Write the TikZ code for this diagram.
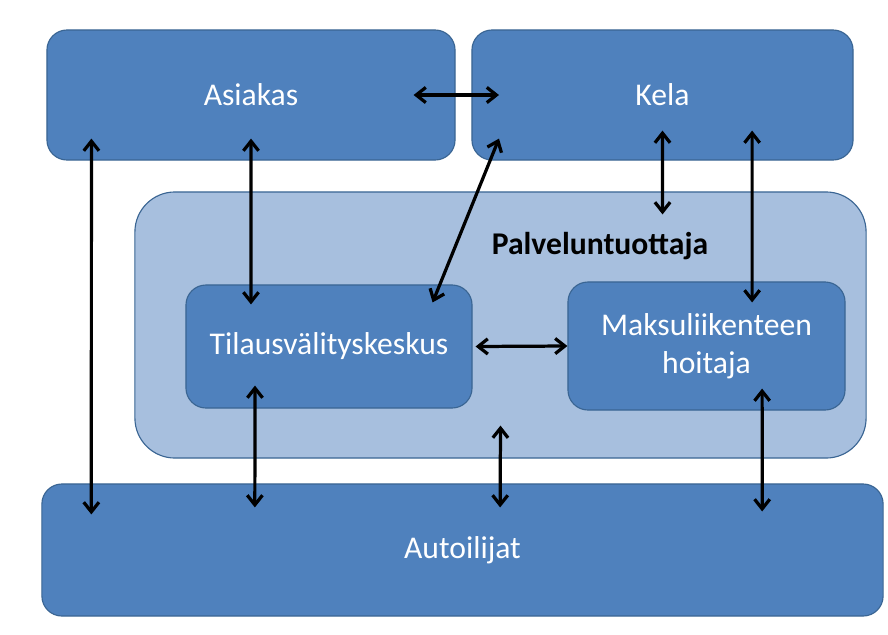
\documentclass[tikz,border=0pt]{standalone}
\usepackage{fontspec}
\setmainfont{Carlito}
\usetikzlibrary{arrows.meta}
\definecolor{boxblue}{HTML}{4F81BD}
\definecolor{boxline}{HTML}{3A6593}
\definecolor{lightblue}{HTML}{A7BFDE}
\begin{document}
\begin{tikzpicture}[x=0.025cm,y=-0.025cm,
  box/.style={draw=boxline, line width=0.8pt, fill=boxblue, rounded corners=0.5cm, text=white, font=\fontsize{22.5}{27}\selectfont, align=center, inner sep=0pt},
  outer/.style={draw=boxline, line width=0.8pt, fill=lightblue, rounded corners=1cm, inner sep=0pt},
  arr/.style={line width=2.3pt, {Straight Barb[length=2.4mm,width=3.8mm]}-{Straight Barb[length=2.4mm,width=3.8mm]}}]
\useasboundingbox (0,0) rectangle (888,634);
\node[box, minimum width=10.2cm, minimum height=3.25cm] (1) at (251,95) {Asiakas};
\node[box, minimum width=9.525cm, minimum height=3.25cm] (2) at (662.5,95) {Kela};
\node[outer, minimum width=18.275cm, minimum height=6.65cm] (3) at (500.5,325) {};
\node[font=\fontsize{22.5}{27}\selectfont\bfseries] (3t) at (600,246) {Palveluntuottaja};
\node[box, minimum width=7.15cm, minimum height=3.075cm] (4) at (329,346.5) {Tilausvälityskeskus};
\node[box, minimum width=6.925cm, minimum height=3.2cm] (5) at (706.5,346) {Maksuliikenteen\\hoitaja};
\node[box, minimum width=21.025cm, minimum height=3.3cm] (6) at (462.5,550) {Autoilijat};
\path[draw,arr] ([xshift=-1.05cm]1.east) -- ([xshift=0.69cm]2.west);
\path[draw,arr] ([xshift=1.125cm,yshift=0.55cm]1.south west) -- ([xshift=1.25cm,yshift=-0.775cm]6.north west);
\path[draw,arr] ([yshift=0.55cm]1.south) -- ([xshift=-1.95cm,yshift=-0.5cm]4.north);
\path[draw,arr] ([xshift=0.69cm,yshift=0.55cm]2.south west) -- ([xshift=-1cm,yshift=-0.45cm]4.north east);
\path[draw,arr] ([yshift=0.75cm]2.south) -- ([xshift=4.05cm,yshift=-0.575cm]3.north);
\path[draw,arr] ([xshift=2.24cm,yshift=0.75cm]2.south) -- ([xshift=1.14cm,yshift=-0.525cm]5.north);
\path[draw,arr] ([xshift=0.075cm]4.east) -- (5.west);
\path[draw,arr] ([xshift=-1.85cm,yshift=0.575cm]4.south) -- ([xshift=-5.19cm,yshift=-0.6cm]6.north);
\path[draw,arr] ([yshift=0.825cm]3.south) -- ([xshift=0.94cm,yshift=-0.6cm]6.north);
\path[draw,arr] ([xshift=1.39cm,yshift=0.55cm]5.south) -- ([xshift=7.49cm,yshift=-0.7cm]6.north);
\end{tikzpicture}
\end{document}
